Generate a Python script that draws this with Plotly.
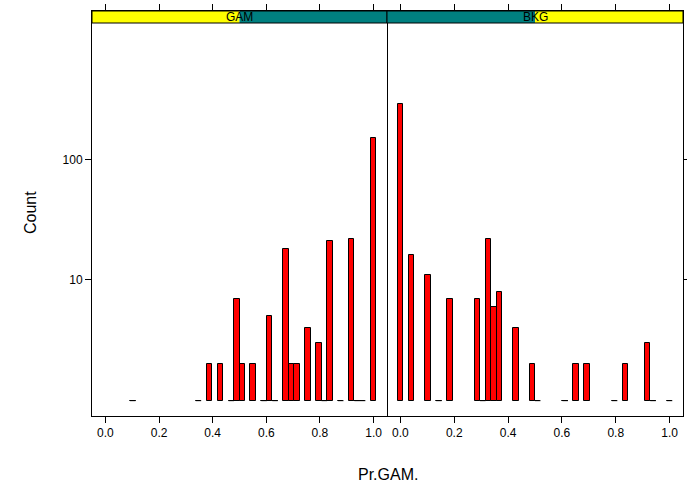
import plotly.graph_objects as go

# Histogram of Pr.GAM. by class, 49 bins per unit, counts on a log scale
n_bins = 49
bin_width = 1.0 / n_bins

panels = ["GAM", "BKG"]

gam_bin = [5, 17, 19, 21, 23, 24, 25, 27, 29, 30, 31, 33, 34, 35, 37, 39, 40, 41, 43, 45, 46, 47, 49]
gam_count = [1, 1, 2, 2, 1, 7, 2, 2, 1, 5, 1, 18, 2, 2, 4, 3, 1, 21, 1, 22, 1, 1, 150]

bkg_bin = [0, 2, 5, 7, 9, 14, 15, 16, 17, 18, 21, 24, 25, 30, 32, 34, 39, 41, 45, 46, 49]
bkg_count = [285, 16, 11, 1, 7, 7, 1, 22, 6, 8, 4, 2, 1, 1, 2, 2, 1, 2, 3, 1, 1]

x_ticks = [0.0, 0.2, 0.4, 0.6, 0.8, 1.0]
y_ticks = [10, 100]

FONT = "Arial, Liberation Sans, sans-serif"
W, H = 687, 484
M_L, M_R, M_T, M_B = 92, 4, 11, 68
plot_w = W - M_L - M_R
plot_h = H - M_T - M_B
strip_frac = 12 / plot_h

fig = go.Figure()

series = [(gam_bin, gam_count, "x", "y"), (bkg_bin, bkg_count, "x2", "y2")]
for bins, counts, xa, ya in series:
    mids = [b * bin_width for b in bins]
    # bars rise from a count of 1 (log10 = 0)
    fig.add_trace(go.Bar(
        x=mids, y=[c - 1 for c in counts], base=1, width=bin_width,
        marker=dict(color="#FF0000", line=dict(color="black", width=1)),
        xaxis=xa, yaxis=ya, showlegend=False, hoverinfo="skip",
    ))
    # single-count bins collapse to a flat segment at the baseline
    sx, sy = [], []
    for m, c in zip(mids, counts):
        if c == 1:
            sx += [m - bin_width / 2, m + bin_width / 2, None]
            sy += [1, 1, None]
    fig.add_trace(go.Scatter(
        x=sx, y=sy, mode="lines", line=dict(color="black", width=1),
        xaxis=xa, yaxis=ya, showlegend=False, hoverinfo="skip",
    ))

split = 295 / plot_w
x_common = dict(
    range=[-0.05, 1.05], tickvals=x_ticks, tickformat=".1f",
    ticks="outside", ticklen=6, tickwidth=1, tickcolor="black",
    showline=True, linecolor="black", linewidth=1, mirror="ticks",
    showgrid=False, zeroline=False, automargin=False,
    tickfont=dict(family=FONT, size=12, color="black"),
)
y_common = dict(
    type="log", range=[-0.127, 3.229], tickvals=y_ticks,
    ticktext=[str(v) for v in y_ticks],
    ticks="outside", ticklen=6, tickwidth=1, tickcolor="black",
    showline=True, linecolor="black", linewidth=1,
    showgrid=False, zeroline=False, automargin=False,
)

fig.update_layout(
    width=W, height=H,
    margin=dict(l=M_L, r=M_R, t=M_T, b=M_B, autoexpand=False),
    paper_bgcolor="white", plot_bgcolor="white",
    bargap=0,
    xaxis=dict(domain=[0, split], anchor="y", **x_common),
    xaxis2=dict(domain=[split, 1], anchor="y2", **x_common),
    yaxis=dict(domain=[0, 1], anchor="x", side="left", mirror=True,
               tickfont=dict(family=FONT, size=12, color="black"), **y_common),
    # the shared border between panels comes from the left panel's mirrored line
    yaxis2=dict(domain=[0, 1], anchor="x2", side="right", mirror=False,
                showticklabels=False, **y_common),
)

# strips above each panel: yellow background with teal level shading
shapes = []
annotations = []
for i, name in enumerate(panels):
    xr = "x domain" if i == 0 else "x2 domain"
    yr = "y domain" if i == 0 else "y2 domain"
    left_col, right_col = ("#FFFF00", "#008080") if i == 0 else ("#008080", "#FFFF00")
    shapes.append(dict(type="rect", xref=xr, yref=yr, x0=0, x1=0.5, y0=1 - strip_frac, y1=1,
                       fillcolor=left_col, line=dict(width=0), layer="above"))
    shapes.append(dict(type="rect", xref=xr, yref=yr, x0=0.5, x1=1, y0=1 - strip_frac, y1=1,
                       fillcolor=right_col, line=dict(width=0), layer="above"))
    shapes.append(dict(type="rect", xref=xr, yref=yr, x0=0, x1=1, y0=1 - strip_frac, y1=1,
                       fillcolor="rgba(0,0,0,0)", line=dict(color="black", width=1), layer="above"))
    annotations.append(dict(text=name, xref=xr, yref=yr, x=0.5, y=1 - strip_frac / 2,
                            showarrow=False, xanchor="center", yanchor="middle",
                            font=dict(family=FONT, size=12, color="black")))

annotations.append(dict(text="Pr.GAM.", xref="paper", yref="paper", x=0.5, y=(H - 474 - M_B) / plot_h,
                        showarrow=False, xanchor="center", yanchor="middle",
                        font=dict(family=FONT, size=16, color="black")))
annotations.append(dict(text="Count", xref="paper", yref="paper", x=(30 - M_L) / plot_w,
                        y=(H - M_B - 213) / plot_h, textangle=-90,
                        showarrow=False, xanchor="center", yanchor="middle",
                        font=dict(family=FONT, size=16, color="black")))

fig.update_layout(shapes=shapes, annotations=annotations)

fig.write_html("out.html")
